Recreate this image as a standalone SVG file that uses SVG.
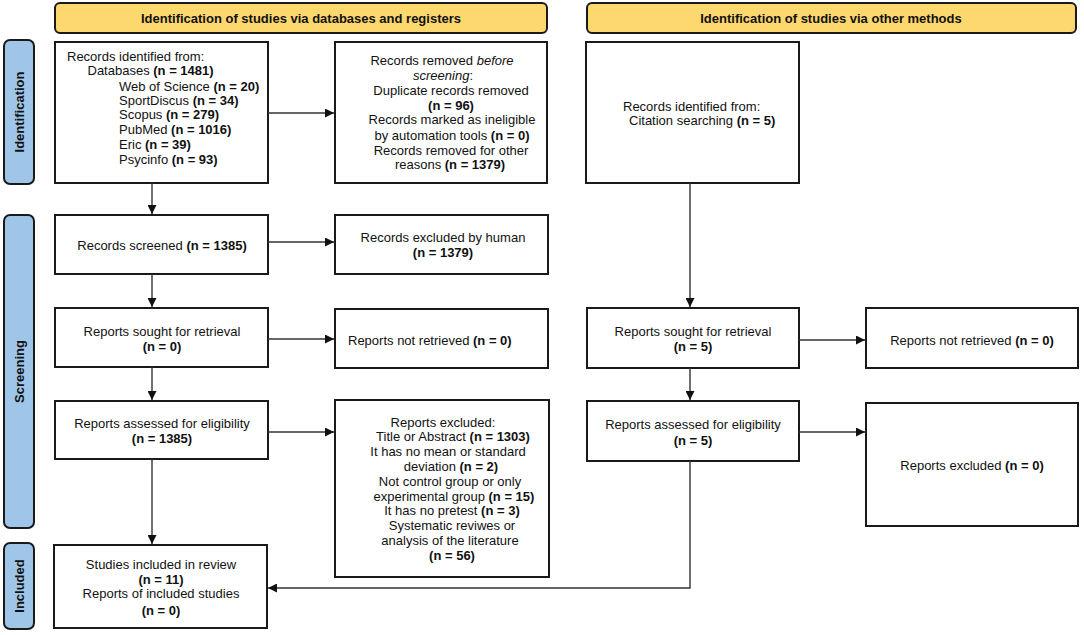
<svg xmlns="http://www.w3.org/2000/svg" width="1084" height="635" viewBox="0 0 1084 635">
<style>
.bg{fill:#fff}
.box{fill:#fff;stroke:#1a1a1a;stroke-width:2}
.hdr{fill:#fdd86e;stroke:#1a1a1a;stroke-width:2}
.side{fill:#9fc5e8;stroke:#1a1a1a;stroke-width:2}
text{font-family:"Liberation Sans",Arial,sans-serif;font-size:13px;fill:#111}
.c{text-anchor:middle}
.b{font-weight:bold}
.conn{fill:none;stroke:#333;stroke-width:1.4}
</style>
<defs>
<marker id="ah" markerUnits="userSpaceOnUse" markerWidth="10" markerHeight="9" refX="9" refY="4.5" orient="auto">
<path d="M0,0 L9,4.5 L0,9 z" fill="#111"/>
</marker>
</defs>
<rect class="bg" x="0" y="0" width="1084" height="635"/>

<g id="header-databases">
<rect class="hdr" x="55" y="3" width="492" height="30" rx="5"/>
<text class="c b" x="301" y="22.8">Identification of studies via databases and registers</text>
</g>
<g id="header-other">
<rect class="hdr" x="587" y="3" width="489" height="30" rx="5"/>
<text class="c b" x="831" y="22.8">Identification of studies via other methods</text>
</g>

<g id="side-identification">
<rect class="side" x="4" y="40" width="30" height="144" rx="6"/>
<text class="c b" transform="translate(23.6,112) rotate(-90)">Identification</text>
</g>
<g id="side-screening">
<rect class="side" x="4" y="215" width="30" height="313" rx="6"/>
<text class="c b" transform="translate(23.6,371.5) rotate(-90)">Screening</text>
</g>
<g id="side-included">
<rect class="side" x="4" y="543" width="30" height="86" rx="6"/>
<text class="c b" transform="translate(23.6,586) rotate(-90)">Included</text>
</g>

<g id="box-records-identified">
<rect class="box" x="55" y="42" width="213" height="141"/>
<text x="67" y="61.3">Records identified from:</text>
<text x="87.5" y="75.3">Databases <tspan class="b">(n = 1481)</tspan></text>
<text x="119" y="90.6">Web of Science <tspan class="b">(n = 20)</tspan></text>
<text x="119" y="104.6">SportDiscus <tspan class="b">(n = 34)</tspan></text>
<text x="119" y="118.9">Scopus <tspan class="b">(n = 279)</tspan></text>
<text x="119" y="133.9">PubMed <tspan class="b">(n = 1016)</tspan></text>
<text x="119" y="148.6">Eric <tspan class="b">(n = 39)</tspan></text>
<text x="119" y="163.9">Psycinfo <tspan class="b">(n = 93)</tspan></text>
</g>

<g id="box-records-removed">
<rect class="box" x="335" y="42" width="212" height="141"/>
<text class="c" x="442" y="65.3">Records removed <tspan font-style="italic">before</tspan></text>
<text class="c" x="443" y="79.6"><tspan font-style="italic">screening</tspan>:</text>
<text class="c" x="451" y="94.6">Duplicate records removed</text>
<text class="c b" x="451" y="109.6">(n = 96)</text>
<text class="c" x="452" y="123.9">Records marked as ineligible</text>
<text class="c" x="452" y="139.6">by automation tools <tspan class="b">(n = 0)</tspan></text>
<text class="c" x="451" y="154.6">Records removed for other</text>
<text class="c" x="450" y="168.9">reasons <tspan class="b">(n = 1379)</tspan></text>
</g>

<g id="box-citation">
<rect class="box" x="586" y="42" width="213" height="141"/>
<text x="623" y="110.6">Records identified from:</text>
<text x="629" y="124.6">Citation searching <tspan class="b">(n = 5)</tspan></text>
</g>

<g id="box-screened">
<rect class="box" x="55" y="215" width="213" height="59"/>
<text class="c" x="162" y="250">Records screened <tspan class="b">(n = 1385)</tspan></text>
</g>

<g id="box-excluded-human">
<rect class="box" x="335" y="215" width="213" height="59"/>
<text class="c" x="443" y="242.3">Records excluded by human</text>
<text class="c b" x="443" y="257.3">(n = 1379)</text>
</g>

<g id="box-sought-db">
<rect class="box" x="55" y="308" width="213" height="59"/>
<text class="c" x="162" y="335.6">Reports sought for retrieval</text>
<text class="c b" x="162" y="351.3">(n = 0)</text>
</g>

<g id="box-not-retrieved-db">
<rect class="box" x="335" y="309" width="213" height="59"/>
<text x="348" y="344.6">Reports not retrieved <tspan class="b">(n = 0)</tspan></text>
</g>

<g id="box-sought-other">
<rect class="box" x="587" y="308" width="212" height="60"/>
<text class="c" x="693" y="335.6">Reports sought for retrieval</text>
<text class="c b" x="693" y="351.3">(n = 5)</text>
</g>

<g id="box-not-retrieved-other">
<rect class="box" x="866" y="308" width="212" height="60"/>
<text class="c" x="972" y="344.6">Reports not retrieved <tspan class="b">(n = 0)</tspan></text>
</g>

<g id="box-assessed-db">
<rect class="box" x="55" y="401" width="213" height="58"/>
<text class="c" x="162" y="427.9">Reports assessed for eligibility</text>
<text class="c b" x="162" y="442.9">(n = 1385)</text>
</g>

<g id="box-excluded-db">
<rect class="box" x="335" y="400" width="214" height="177"/>
<text class="c" x="443" y="427.3">Reports excluded:</text>
<text class="c" x="453" y="441.3">Title or Abstract <tspan class="b">(n = 1303)</tspan></text>
<text class="c" x="448" y="456.3">It has no mean or standard</text>
<text class="c" x="451" y="470.6">deviation <tspan class="b">(n = 2)</tspan></text>
<text class="c" x="450" y="485.6">Not control group or only</text>
<text class="c" x="454" y="500.6">experimental group <tspan class="b">(n = 15)</tspan></text>
<text class="c" x="452" y="514.6">It has no pretest <tspan class="b">(n = 3)</tspan></text>
<text class="c" x="452" y="529.6">Systematic reviwes or</text>
<text class="c" x="450" y="544.6">analysis of the literature</text>
<text class="c b" x="452" y="559.6">(n = 56)</text>
</g>

<g id="box-assessed-other">
<rect class="box" x="587" y="401" width="212" height="60"/>
<text class="c" x="693" y="428.6">Reports assessed for eligibility</text>
<text class="c b" x="693" y="445.3">(n = 5)</text>
</g>

<g id="box-excluded-other">
<rect class="box" x="866" y="403" width="212" height="123"/>
<text class="c" x="972" y="469.6">Reports excluded <tspan class="b">(n = 0)</tspan></text>
</g>

<g id="box-included">
<rect class="box" x="54" y="545" width="213" height="83"/>
<text class="c" x="161" y="568.9">Studies included in review</text>
<text class="c b" x="161" y="583.9">(n = 11)</text>
<text class="c" x="161" y="597.9">Reports of included studies</text>
<text class="c b" x="161" y="614.6">(n = 0)</text>
</g>

<g id="connectors">
<path class="conn" d="M268,113 H334" marker-end="url(#ah)"/>
<path class="conn" d="M152,183 V214" marker-end="url(#ah)"/>
<path class="conn" d="M268,242 H334" marker-end="url(#ah)"/>
<path class="conn" d="M152,274 V307" marker-end="url(#ah)"/>
<path class="conn" d="M268,339 H334" marker-end="url(#ah)"/>
<path class="conn" d="M152,367 V400" marker-end="url(#ah)"/>
<path class="conn" d="M268,432 H334" marker-end="url(#ah)"/>
<path class="conn" d="M152,459 V544" marker-end="url(#ah)"/>
<path class="conn" d="M690,183 V307" marker-end="url(#ah)"/>
<path class="conn" d="M799,340 H865" marker-end="url(#ah)"/>
<path class="conn" d="M690,368 V400" marker-end="url(#ah)"/>
<path class="conn" d="M799,432 H865" marker-end="url(#ah)"/>
<path class="conn" d="M690,461 V588 H268" marker-end="url(#ah)"/>
</g>
</svg>
